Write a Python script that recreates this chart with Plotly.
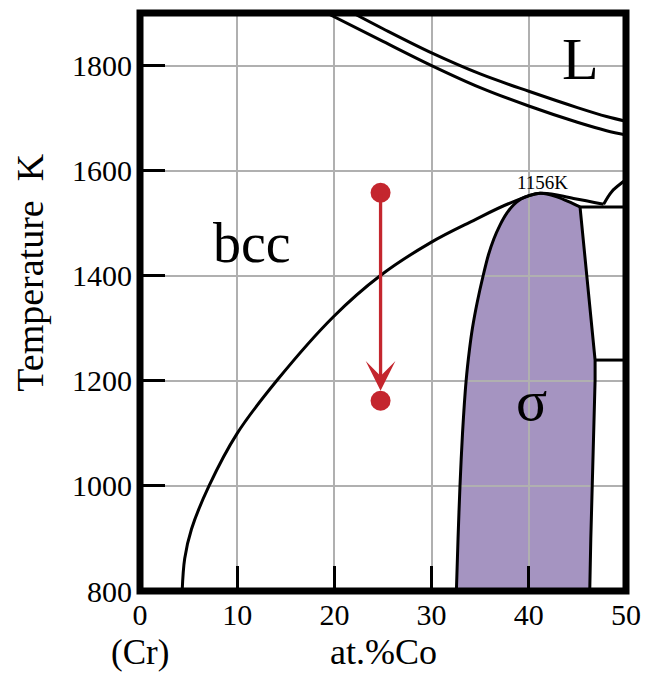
import plotly.graph_objects as go

# ---------------- data ----------------
x_tick_vals = [0, 10, 20, 30, 40, 50]
x_tick_text = ["0", "10", "20", "30", "40", "50"]
y_tick_vals = [800, 1000, 1200, 1400, 1600, 1800]
y_tick_text = ["800", "1000", "1200", "1400", "1600", "1800"]

# bcc solvus (left curve, passing over the sigma dome)
bcc_x = [4.34, 4.6, 5.3, 7.1, 10.0, 14.1, 19.9, 24.7, 29.9, 34.3, 37.9, 41.16, 44.6, 47.7]
bcc_y = [800, 862, 918, 1000, 1100, 1201, 1322, 1400, 1463, 1505, 1537, 1557, 1547, 1536]

# sigma phase region (left edge -> top -> right edge)
sigma_x = [32.55, 32.72, 32.92, 33.18, 33.55, 33.9, 34.2, 34.7, 35.3, 35.85, 36.4, 37.0, 37.74, 38.45,
           39.2, 40.1, 41.16, 42.0, 42.9, 44.1, 45.27, 45.62, 45.98, 46.4, 46.82, 46.82, 46.65, 46.47,
           46.38, 46.27]
sigma_y = [800, 900, 1000, 1100, 1200, 1260, 1300, 1350, 1400, 1440, 1470, 1495, 1519, 1535,
           1546, 1553, 1557, 1555, 1550, 1541, 1531, 1466, 1398, 1318, 1239.5, 1201, 1100, 998,
           900, 800]
SIGMA_CORNER = 20   # index of the top-right corner of the sigma dome

# liquidus / solidus (top right)
liq_upper_x = [21.9, 25.0, 30.0, 35.0, 40.0, 45.0, 48.0, 50.0]
liq_upper_y = [1900, 1870, 1824, 1784, 1751, 1720, 1703, 1694]
liq_lower_x = [19.2, 25.0, 30.0, 35.0, 40.0, 45.0, 48.0, 50.0]
liq_lower_y = [1900, 1846, 1800, 1758, 1723, 1692, 1676, 1668]

# small boundaries at the right edge
junc_x = [47.7, 48.53, 49.72, 50.0]
junc_y = [1536, 1560, 1579, 1583]
tie_hi_x = [45.27, 50.0]
tie_hi_y = [1531, 1531]
tie_lo_x = [46.82, 50.0]
tie_lo_y = [1239.5, 1239.5]

# heat-treatment arrow
arrow_x = [24.75, 24.75]
arrow_y = [1558, 1162]      # start dot, end dot
arrow_tip_y = [1181]

# labels
region_labels = ["L", "bcc", "σ", "1156K"]
region_x = [45.3, 11.5, 40.3, 41.4]
region_y = [1812, 1462, 1163, 1577]
region_size = [60, 56, 58, 19]

# ---------------- figure ----------------
BLACK = "#000000"
RED = "#c4262e"
SIGMA = "#a594c1"
FONT = "Liberation Serif"

fig = go.Figure()

# sigma fill as a shape below the grid (grid shows through in the reference)
path = "M " + " L ".join(f"{x},{y}" for x, y in zip(sigma_x, sigma_y)) + " Z"
fig.add_shape(type="path", path=path, xref="x", yref="y",
              fillcolor=SIGMA, line=dict(width=0), layer="below")

line_style = dict(color=BLACK, width=3)
# sigma outline: smooth dome, straight right edge
fig.add_trace(go.Scatter(x=sigma_x[:SIGMA_CORNER + 1], y=sigma_y[:SIGMA_CORNER + 1], mode="lines",
                         line=dict(shape="spline", smoothing=0.8, **line_style), hoverinfo="skip"))
fig.add_trace(go.Scatter(x=sigma_x[SIGMA_CORNER:], y=sigma_y[SIGMA_CORNER:], mode="lines",
                         line=line_style, hoverinfo="skip"))
fig.add_trace(go.Scatter(x=bcc_x, y=bcc_y, mode="lines", line=dict(shape="spline", **line_style), hoverinfo="skip"))
fig.add_trace(go.Scatter(x=liq_upper_x, y=liq_upper_y, mode="lines", line=dict(shape="spline", **line_style), hoverinfo="skip"))
fig.add_trace(go.Scatter(x=liq_lower_x, y=liq_lower_y, mode="lines", line=dict(shape="spline", **line_style), hoverinfo="skip"))
fig.add_trace(go.Scatter(x=junc_x, y=junc_y, mode="lines", line=dict(shape="spline", **line_style), hoverinfo="skip"))
fig.add_trace(go.Scatter(x=tie_hi_x, y=tie_hi_y, mode="lines", line=line_style, hoverinfo="skip"))
fig.add_trace(go.Scatter(x=tie_lo_x, y=tie_lo_y, mode="lines", line=line_style, hoverinfo="skip"))

# arrow end dots
fig.add_trace(go.Scatter(x=arrow_x, y=arrow_y, mode="markers",
                         marker=dict(color=RED, size=20, line=dict(width=0)), hoverinfo="skip"))

annotations = [
    dict(x=arrow_x[0], y=arrow_tip_y[0], ax=arrow_x[0], ay=arrow_y[0], xref="x", yref="y",
         axref="x", ayref="y", text="", showarrow=True, arrowhead=3, arrowsize=1.5,
         arrowwidth=3.3, arrowcolor=RED, standoff=0, startstandoff=0),
]
for t, x, y, s in zip(region_labels, region_x, region_y, region_size):
    annotations.append(dict(x=x, y=y, xref="x", yref="y", text=t, showarrow=False,
                            font=dict(family=FONT, size=s, color=BLACK),
                            xanchor="center", yanchor="middle"))

# axis titles
annotations += [
    dict(x=0, y=-0.106, xref="x", yref="paper", text="(Cr)", showarrow=False,
         font=dict(family=FONT, size=35, color=BLACK), xanchor="center", yanchor="middle"),
    dict(x=25, y=-0.106, xref="x", yref="paper", text="at.%Co", showarrow=False,
         font=dict(family=FONT, size=36, color=BLACK), xanchor="center", yanchor="middle"),
    dict(x=-0.227, y=0.55, xref="paper", yref="paper", text="Temperature\u00a0\u00a0K", showarrow=False,
         textangle=-90, font=dict(family=FONT, size=38, color=BLACK), xanchor="center", yanchor="middle"),
]

# plot frame
fig.add_shape(type="rect", xref="paper", yref="paper", x0=0, x1=1, y0=0, y1=1,
              line=dict(color=BLACK, width=7), fillcolor="rgba(0,0,0,0)", layer="above")

axis_common = dict(
    showgrid=True, gridcolor="#b0b0b0", gridwidth=1.6,
    zeroline=False, showline=False,
    ticks="inside", ticklen=25, tickwidth=2.7, tickcolor=BLACK,
    tickfont=dict(family=FONT, size=30, color=BLACK),
    automargin=False, fixedrange=True,
)
fig.update_xaxes(range=[0, 50], tickvals=x_tick_vals, ticktext=x_tick_text,
                 ticklabelstandoff=3, **axis_common)
fig.update_yaxes(range=[800, 1900], tickvals=y_tick_vals, ticktext=y_tick_text,
                 ticklabelstandoff=7, **axis_common)

# the page body has an 8 px default margin: size the figure so it fits the window
fig.update_layout(
    width=643, height=665,
    margin=dict(l=131.5, r=25, t=5.2, b=82.3, pad=0),
    paper_bgcolor="white", plot_bgcolor="white",
    showlegend=False,
    annotations=annotations,
    font=dict(family=FONT, color=BLACK),
)

fig.write_html("out.html")
